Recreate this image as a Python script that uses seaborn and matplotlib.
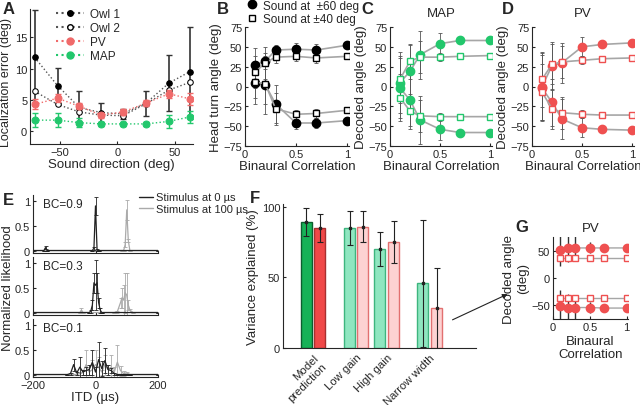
import matplotlib
matplotlib.use("Agg")
import matplotlib.pyplot as plt
from matplotlib.lines import Line2D
import seaborn as sns

# ---- data -------------------------------------------------------------
# A: localization error vs sound direction
directions = [-72, -52, -33, -14, 5, 25, 45, 63]
owl1 = [11.8, 7.3, 3.8, 3.0, 2.8, 4.5, 7.7, 9.5]
owl1_err = [7.6, 2.8, 2.6, 1.5, 0.8, 2.0, 4.5, 7.1]
owl2 = [6.4, 4.3, 3.1, 2.6, 2.5, 4.4, 6.6, 7.8]
pv_err_loc = [4.3, 5.3, 4.0, 2.6, 3.1, 4.5, 6.0, 5.2]
pv_err_loc_sd = [0.8, 0.6, 0.5, 0.4, 0.5, 0.5, 0.6, 1.0]
map_err_loc = [1.8, 1.8, 1.4, 1.2, 1.2, 1.2, 1.6, 2.3]
map_err_loc_sd = [1.1, 1.1, 0.7, 0.3, 0.3, 0.3, 1.0, 1.0]

# B, C, D, G: binaural correlation
bc = [0.1, 0.2, 0.3, 0.5, 0.7, 1.0]

b60_up = [27, 32, 46, 47, 46, 52]
b60_up_sd = [22, 10, 6, 8, 8, 4]
b60_lo = [5, 2, -22, -46, -46, -43]
b60_lo_sd = [27, 37, 24, 8, 6, 4]
b40_up = [18, 30, 37, 38, 36, 38]
b40_up_sd = [20, 20, 8, 6, 6, 3]
b40_lo = [6, 3, -28, -35, -34, -30]
b40_lo_sd = [20, 25, 20, 6, 6, 3]

c60_up = [5, 19, 40, 54, 58, 58]
c60_lo = [-2, -17, -42, -54, -58, -58]
c40_up = [9, 32, 37, 37, 38, 39]
c40_lo = [-14, -31, -37, -38, -38, -38]
c60_sd = [38, 33, 30, 13, 3, 2]
c40_sd = [30, 22, 20, 5, 3, 2]

d60_up = [0, 26, 30, 50, 53, 55]
d60_lo = [-2, -20, -41, -52, -54, -55]
d40_up = [9, 28, 31, 33, 35, 36]
d40_lo = [-7, -28, -33, -35, -36, -36]
d60_sd = [42, 30, 25, 12, 3, 2]
d40_sd = [35, 25, 20, 5, 3, 2]

g60_up = [52, 54, 55, 55, 55, 55]
g60_lo = [-52, -54, -54, -54, -55, -55]
g40_up = [36, 36, 36, 36, 36, 36]
g40_lo = [-36, -36, -36, -36, -36, -36]
g60_sd = [30, 25, 22, 10, 2, 2]

# E: normalized likelihood vs ITD
e09_itd_0 = [-200, -165, -160, -155, -10, -5, 0, 5, 10, 200]
e09_lik_0 = [0, 0, 0.06, 0, 0, 0.05, 0.9, 0.02, 0, 0]
e09_sd_0 = [0, 0, 0.03, 0, 0, 0.03, 0.18, 0.02, 0, 0]
e09_itd_100 = [-200, 85, 90, 95, 100, 105, 110, 200]
e09_lik_100 = [0, 0, 0, 0.12, 0.82, 0.2, 0, 0]
e09_sd_100 = [0, 0, 0, 0.05, 0.2, 0.03, 0, 0]

e03_itd_0 = [-200, -20, -15, -10, -5, 0, 5, 10, 15, 20, 200]
e03_lik_0 = [0, 0, 0.03, 0.15, 0.6, 0.55, 0.6, 0.2, 0.05, 0, 0]
e03_sd_0 = [0, 0, 0.03, 0.1, 0.2, 0.5, 0.2, 0.1, 0.05, 0, 0]
e03_itd_100 = [-200, -50, -45, -40, 60, 70, 80, 85, 90, 95, 100, 105, 110, 120, 200]
e03_lik_100 = [0, 0, 0.05, 0, 0, 0.02, 0.2, 0.3, 0.25, 0.4, 0.35, 0.15, 0.05, 0, 0]
e03_sd_100 = [0, 0, 0.04, 0, 0, 0.02, 0.1, 0.2, 0.3, 0.4, 0.45, 0.1, 0.03, 0, 0]

e01_itd = [-200, -90, -80, -70, -60, -50, -40, -30, -20, -10, 0, 10, 20, 30,
           40, 50, 60, 70, 80, 90, 100, 110, 200]
e01_lik_0 = [0, 0, 0.02, 0.2, 0.03, 0.15, 0.05, 0.08, 0.1, 0.25, 0.05, 0.3,
             0.12, 0.28, 0.1, 0.08, 0.02, 0, 0, 0, 0, 0, 0]
e01_sd_0 = [0, 0, 0.02, 0.12, 0.03, 0.2, 0.05, 0.08, 0.1, 0.25, 0.1, 0.35,
            0.15, 0.25, 0.1, 0.05, 0.02, 0, 0, 0, 0, 0, 0]
e01_lik_100 = [0, 0, 0, 0, 0, 0.02, 0.05, 0.2, 0.05, 0.1, 0.2, 0.15, 0.05,
               0.2, 0.1, 0.15, 0.05, 0.25, 0.08, 0.02, 0.03, 0, 0]
e01_sd_100 = [0, 0, 0, 0, 0, 0.02, 0.05, 0.3, 0.05, 0.2, 0.3, 0.2, 0.05,
              0.2, 0.1, 0.25, 0.1, 0.35, 0.1, 0.05, 0.02, 0, 0]

# F: variance explained
f_labels = ["Model\nprediction", "Low gain", "High gain", "Narrow width"]
f_map = [89, 85, 70, 46]
f_map_sd = [10, 12, 12, 45]
f_pv = [85, 86, 75, 28]
f_pv_sd = [10, 11, 15, 29]

# ---- style ------------------------------------------------------------
sns.set_style("ticks")
plt.rcParams['font.family'] = ['Liberation Sans', 'DejaVu Sans']
plt.rcParams['font.size'] = 8
plt.rcParams['xtick.direction'] = 'in'
plt.rcParams['ytick.direction'] = 'in'
plt.rcParams['xtick.major.size'] = 2
plt.rcParams['ytick.major.size'] = 2
plt.rcParams['axes.linewidth'] = 0.8
plt.rcParams['xtick.major.pad'] = 2
plt.rcParams['ytick.major.pad'] = 2

GREEN = '#22c76c'
RED = '#ef5050'
PV_A = '#f06a6a'
LGREY = '#a6a6a6'
EGREY = '#555555'
LABEL_FS = 9.5

fig = plt.figure(figsize=(6.4, 4.06), dpi=100)


def px_ax(x0, y0, x1, y1):
    return fig.add_axes([x0 / 640, 1 - y1 / 406, (x1 - x0) / 640, (y1 - y0) / 406])


def letter(x, y, s):
    fig.text(x / 640, 1 - y / 406, s, fontsize=12, fontweight='bold', va='center')


# ---- A ----------------------------------------------------------------
ax = px_ax(30, 10, 193, 145)
ax.errorbar(directions, owl1, yerr=owl1_err, fmt='none', ecolor='#333333', elinewidth=1.2, capsize=2)
sns.lineplot(x=directions, y=owl1, ax=ax, color='#555555', linestyle=':', marker='o',
             markersize=4, markerfacecolor='black', markeredgecolor='black', linewidth=1)
sns.lineplot(x=directions, y=owl2, ax=ax, color='#555555', linestyle=':', marker='o',
             markersize=4, markerfacecolor='white', markeredgecolor='black', linewidth=1)
ax.errorbar(directions, pv_err_loc, yerr=pv_err_loc_sd, fmt='none', ecolor=PV_A, elinewidth=1, capsize=2)
sns.lineplot(x=directions, y=pv_err_loc, ax=ax, color=PV_A, linestyle=':', marker='o',
             markersize=5, markerfacecolor=PV_A, markeredgecolor=PV_A, linewidth=1)
ax.errorbar(directions, map_err_loc, yerr=map_err_loc_sd, fmt='none', ecolor=GREEN, elinewidth=1, capsize=2)
sns.lineplot(x=directions, y=map_err_loc, ax=ax, color=GREEN, linestyle=':', marker='o',
             markersize=5, markerfacecolor=GREEN, markeredgecolor=GREEN, linewidth=1)
ax.set_xlim(-76, 66)
ax.set_ylim(-2, 19.5)
ax.set_xticks([-50, 0, 50])
ax.set_yticks([0, 5, 10, 15])
ax.set_xlabel("Sound direction (deg)", fontsize=LABEL_FS, labelpad=1)
ax.set_ylabel("Localization error (deg)", fontsize=9, labelpad=2, y=0.46)
handles = [
    Line2D([], [], color='#555555', ls=':', marker='o', ms=4, mfc='black', mec='black'),
    Line2D([], [], color='#555555', ls=':', marker='o', ms=4, mfc='white', mec='black'),
    Line2D([], [], color=PV_A, ls=':', marker='o', ms=5, mfc=PV_A, mec=PV_A),
    Line2D([], [], color=GREEN, ls=':', marker='o', ms=5, mfc=GREEN, mec=GREEN),
]
ax.legend(handles, ["Owl 1", "Owl 2", "PV", "MAP"], loc='upper left', bbox_to_anchor=(0.13, 1.04),
          frameon=False, fontsize=8.5, handlelength=2.4, handletextpad=0.5,
          labelspacing=0.15, borderaxespad=0)
sns.despine(ax=ax)
letter(3, 9, "A")


# ---- B, C, D ----------------------------------------------------------
def bc_panel(ax, series, face, edge):
    for vals, sd, marker, ms, filled in series:
        ax.errorbar(bc, vals, yerr=sd, fmt='none', ecolor=EGREY, elinewidth=0.6, capsize=1.5, capthick=0.6)
    for vals, sd, marker, ms, filled in series:
        sns.lineplot(x=bc, y=vals, ax=ax, color=LGREY, linewidth=1.2, marker=marker, markersize=ms,
                     markerfacecolor=face if filled else 'white', markeredgecolor=edge, markeredgewidth=1)
    ax.set_xlim(0, 1.02)
    ax.set_ylim(-75, 75)
    ax.set_xticks([0, 0.5, 1])
    ax.set_xticklabels(["0", "0.5", "1"])
    ax.set_yticks([-75, -50, -25, 0, 25, 50, 75])
    ax.set_xlabel("Binaural Correlation", fontsize=LABEL_FS, labelpad=1)
    sns.despine(ax=ax)


ax = px_ax(245, 28, 349, 147)
bc_panel(ax, [(b60_up, b60_up_sd, 'o', 6, True), (b60_lo, b60_lo_sd, 'o', 6, True),
              (b40_up, b40_up_sd, 's', 5, False), (b40_lo, b40_lo_sd, 's', 5, False)],
         'black', 'black')
ax.set_ylabel("Head turn angle (deg)", fontsize=LABEL_FS, labelpad=1)
handles = [Line2D([], [], ls='none', marker='o', ms=6, mfc='black', mec='black'),
           Line2D([], [], ls='none', marker='s', ms=5, mfc='white', mec='black')]
fig.legend(handles, ["Sound at  \u00b160 deg", "Sound at \u00b140 deg"], loc='upper left',
           bbox_to_anchor=(246 / 640, 1 - 0 / 406), frameon=False, fontsize=8.5, handlelength=1,
           handletextpad=0.4, labelspacing=0.1, borderaxespad=0, borderpad=0.05)
letter(217, 9, "B")

ax = px_ax(390, 28, 492, 147)
bc_panel(ax, [(c60_up, c60_sd, 'o', 6, True), (c60_lo, c60_sd, 'o', 6, True),
              (c40_up, c40_sd, 's', 5, False), (c40_lo, c40_sd, 's', 5, False)],
         GREEN, GREEN)
ax.set_ylabel("Decoded angle (deg)", fontsize=LABEL_FS, labelpad=1)
ax.set_title("MAP", fontsize=LABEL_FS, pad=8)
letter(361, 9, "C")

ax = px_ax(532, 28, 634, 147)
bc_panel(ax, [(d60_up, d60_sd, 'o', 6, True), (d60_lo, d60_sd, 'o', 6, True),
              (d40_up, d40_sd, 's', 5, False), (d40_lo, d40_sd, 's', 5, False)],
         RED, RED)
ax.set_ylabel("Decoded angle (deg)", fontsize=LABEL_FS, labelpad=1)
ax.set_title("PV", fontsize=LABEL_FS, pad=8)
letter(502, 9, "D")

# ---- E ----------------------------------------------------------------
e_rows = [
    ("BC=0.9", (e09_itd_0, e09_lik_0, e09_sd_0), (e09_itd_100, e09_lik_100, e09_sd_100)),
    ("BC=0.3", (e03_itd_0, e03_lik_0, e03_sd_0), (e03_itd_100, e03_lik_100, e03_sd_100)),
    ("BC=0.1", (e01_itd, e01_lik_0, e01_sd_0), (e01_itd, e01_lik_100, e01_sd_100)),
]
tops = [196, 258, 320]
for i, (txt, blk, gry) in enumerate(e_rows):
    ax = px_ax(33, tops[i], 158, tops[i] + 58)
    for (x, y, sd), col in [(gry, '#aaaaaa'), (blk, '#222222')]:
        ax.errorbar(x, y, yerr=sd, fmt='none', ecolor=col, elinewidth=0.6, capsize=1.5, capthick=0.6)
        sns.lineplot(x=x, y=y, ax=ax, color=col, linewidth=0.9)
    ax.set_xlim(-200, 200)
    ax.set_ylim(-0.05, 1.12)
    ax.set_yticks([0, 0.5, 1])
    ax.set_yticklabels(["0", "0.5", "1"])
    ax.set_xticks([-200, 0, 200])
    ax.text(0.08, 0.8, txt, transform=ax.transAxes, fontsize=8.5)
    if i < 2:
        ax.set_xticklabels([])
    else:
        ax.set_xlabel("ITD (\u00b5s)", fontsize=LABEL_FS, labelpad=1)
    sns.despine(ax=ax)
fig.text(8 / 640, 1 - 288 / 406, "Normalized likelihood", rotation=90, fontsize=LABEL_FS,
         ha='center', va='center')
handles = [Line2D([], [], color='#222222', lw=1), Line2D([], [], color='#aaaaaa', lw=1)]
fig.legend(handles, ["Stimulus at 0 \u00b5s", "Stimulus at 100 \u00b5s"], loc='upper left',
           bbox_to_anchor=(135 / 640, 1 - 189 / 406), frameon=False, fontsize=8,
           handlelength=1.2, handletextpad=0.3, labelspacing=0.1, borderaxespad=0)
letter(3, 201, "E")

# ---- F ----------------------------------------------------------------
ax = px_ax(283, 205, 476, 349)
map_pos = [0, 3.3, 5.6, 8.9]
pv_pos = [1, 4.3, 6.7, 10]
map_face = ['#16b257', '#8fe6c0', '#8fe6c0', '#8fe6c0']
map_edge = ['#0b5e2e', '#3db57e', '#3db57e', '#3db57e']
pv_face = ['#f04848', '#fdd2d2', '#fdd2d2', '#fdd2d2']
pv_edge = ['#a83030', '#e27070', '#e27070', '#e27070']
ax.bar(map_pos, f_map, width=0.85, color=map_face, edgecolor=map_edge, linewidth=1)
ax.bar(pv_pos, f_pv, width=0.85, color=pv_face, edgecolor=pv_edge, linewidth=1)
ax.errorbar(map_pos, f_map, yerr=f_map_sd, fmt='s', ms=2, color='#222222', elinewidth=0.8,
            capsize=2, capthick=0.8)
ax.errorbar(pv_pos, f_pv, yerr=f_pv_sd, fmt='s', ms=2, color='#222222', elinewidth=0.8,
            capsize=2, capthick=0.8)
ax.set_xlim(-1.8, 13)
ax.set_ylim(0, 102)
ax.set_yticks([0, 50, 100])
ax.set_xticks([0.5, 3.8, 6.15, 9.45])
ax.set_xticklabels(f_labels, rotation=45, ha='right', rotation_mode='anchor', fontsize=8.2)
ax.tick_params(axis='x', length=0, pad=3)
ax.set_ylabel("Variance explained (%)", fontsize=LABEL_FS, labelpad=2)
sns.despine(ax=ax)
letter(250, 199, "F")

# ---- G ----------------------------------------------------------------
ax = px_ax(553, 238, 628, 320)
ax.errorbar(bc, g60_up, yerr=g60_sd, fmt='none', ecolor='#333333', elinewidth=1, capsize=0)
ax.errorbar(bc, g60_lo, yerr=g60_sd, fmt='none', ecolor='#333333', elinewidth=1, capsize=0)
for vals, marker, ms, filled in [(g60_up, 'o', 6, True), (g60_lo, 'o', 6, True),
                                 (g40_up, 's', 4.5, False), (g40_lo, 's', 4.5, False)]:
    sns.lineplot(x=bc, y=vals, ax=ax, color=LGREY, linewidth=1, marker=marker, markersize=ms,
                 markerfacecolor=RED if filled else 'white', markeredgecolor=RED, markeredgewidth=1)
ax.set_xlim(0, 1.02)
ax.set_ylim(-75, 75)
ax.set_xticks([0, 0.5, 1])
ax.set_xticklabels(["0", "0.5", "1"])
ax.set_yticks([-50, 0, 50])
ax.set_title("PV", fontsize=LABEL_FS, pad=4)
ax.set_xlabel("Binaural\nCorrelation", fontsize=LABEL_FS, labelpad=2)
ax.set_ylabel("Decoded angle\n(deg)", fontsize=LABEL_FS, labelpad=2)
sns.despine(ax=ax)
letter(515, 228, "G")

ax.annotate("", xy=(510, 406 - 294), xycoords='figure pixels', xytext=(450, 406 - 322),
            textcoords='figure pixels',
            arrowprops=dict(arrowstyle='-|>', color='#222222', lw=0.8, mutation_scale=7))

fig.savefig("out.png", dpi=100)
